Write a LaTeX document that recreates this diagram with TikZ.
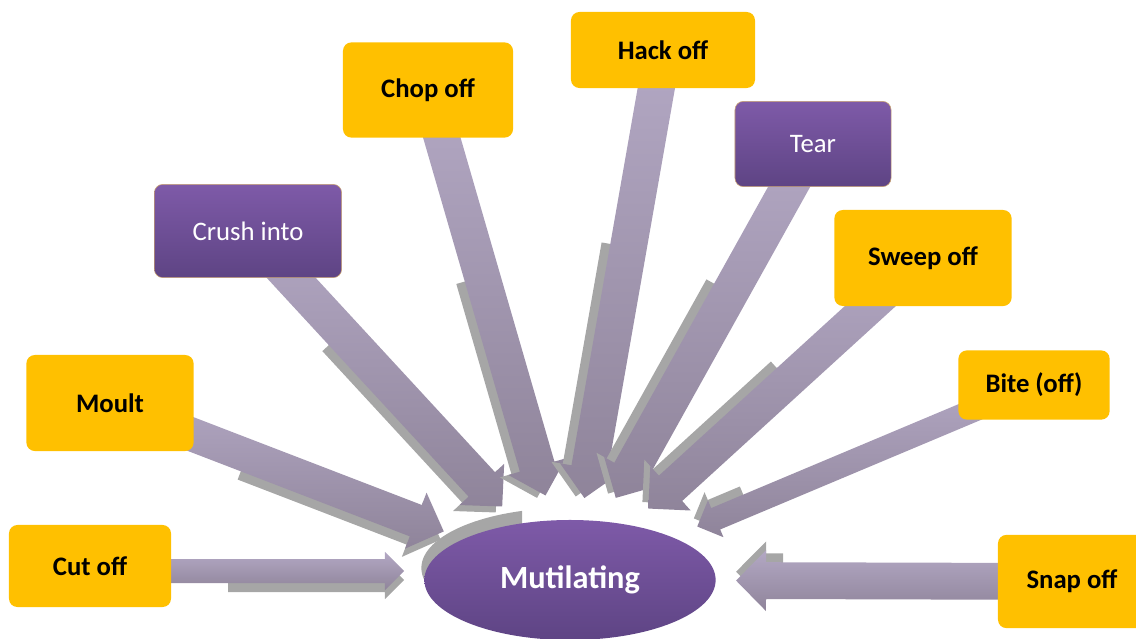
\documentclass[tikz,border=0pt]{standalone}
\usepackage{fontspec}
\setmainfont{Carlito}
\usetikzlibrary{shapes.geometric,calc,backgrounds}

\definecolor{gold}{HTML}{FFC000}
\definecolor{plumtop}{HTML}{7E5AA8}
\definecolor{plumbot}{HTML}{5E4484}
\definecolor{shafttop}{HTML}{B3A8C4}
\definecolor{shaftbot}{HTML}{8F849A}
\definecolor{shadowgrey}{HTML}{A6A6A6}
\definecolor{rim}{HTML}{C8A070}

\tikzset{
    verb/.style={rounded corners=6pt, inner sep=0pt, fill=gold, text=black,
        font=\fontsize{19}{22}\selectfont\bfseries},
    verbplum/.style={rounded corners=6pt, inner sep=0pt, top color=plumtop,
        bottom color=plumbot, draw=rim, line width=0.4pt, text=white,
        font=\fontsize{19}{22}\selectfont},
    hub/.style={ellipse, inner sep=0pt, top color=plumtop, bottom color=plumbot,
        text=white, font=\fontsize{23}{27}\selectfont\bfseries},
    shaft/.style={top color=shafttop, bottom color=shaftbot},
}

% block arrow: #1 fill, #2 tail, #3 tip, #4 half shaft, #5 half head, #6 head length
\newcommand{\fatarrow}[6]{%
    \coordinate (fa-neck) at ($(#3)!#6!(#2)$);
    \path[#1] ($(#2)!#4!90:(#3)$) -- ($(fa-neck)!#4!90:(#3)$)
        -- ($(fa-neck)!#5!90:(#3)$) -- (#3)
        -- ($(fa-neck)!#5!-90:(#3)$) -- ($(fa-neck)!#4!-90:(#3)$)
        -- ($(#2)!#4!-90:(#3)$) -- cycle;
}

\begin{document}
\begin{tikzpicture}[x=0.025cm, y=-0.025cm]
    \useasboundingbox (0,0) rectangle (1136,638);

    \node[hub, minimum width=7.28cm, minimum height=3cm] (mut) at (570,580) {Mutilating};

    \node[verb, minimum width=4.05cm, minimum height=2.05cm] (cut) at (90,566) {Cut off};
    \node[verb, minimum width=4.18cm, minimum height=2.4cm] (moult) at (110,403) {Moult};
    \node[verbplum, minimum width=4.68cm, minimum height=2.33cm] (crush) at (248,231) {Crush into};
    \node[verb, minimum width=4.25cm, minimum height=2.38cm] (chop) at (428,90) {Chop off};
    \node[verb, minimum width=4.6cm, minimum height=1.9cm] (hack) at (663,50) {Hack off};
    \node[verbplum, minimum width=3.9cm, minimum height=2.13cm] (tear) at (813,144) {Tear};
    \node[verb, minimum width=4.43cm, minimum height=2.4cm] (sweep) at (923,258) {Sweep off};
    \node[verb, minimum width=3.78cm, minimum height=1.73cm] (bite) at (1034,385) {Bite (off)};
    \node[verb, minimum width=3.7cm, minimum height=2.33cm] (snap) at (1072,581.5) {Snap off};

    \begin{pgfonlayer}{background}
        % shadow under the hub
        \begin{scope}
            \clip (400,500) rectangle (522,600);
            \fill[shadowgrey] ($(mut.center)+(-3,-12)$) ellipse [x radius=3.64cm, y radius=1.5cm];
        \end{scope}

        % the flat one on the left
        \coordinate (cut-tip) at ($(mut.west)+(-20,-9)$);
        \coordinate (cut-tail) at (cut.center |- cut-tip);
        \coordinate (cut-mid) at ($(cut-tail)!0.44!(cut-tip)$);
        \fatarrow{fill=shadowgrey}{$(cut-mid)+(0,9)$}{$(cut-tip)+(0,9)$}{0.3cm}{0.48cm}{0.48cm}
        \fatarrow{shaft}{cut-tail}{cut-tip}{0.3cm}{0.48cm}{0.48cm}

        % box / tip distance / half shaft / half head / head length / shadow start
        \foreach \b/\d/\w/\h/\l/\f in {
            moult/3.38/0.42/0.75/0.75/0.41, crush/2.5/0.45/0.76/0.75/0.37,
            chop/2.2/0.45/0.75/0.75/0.46, hack/2.08/0.46/0.75/0.75/0.44,
            tear/2.35/0.46/0.75/0.75/0.42, sweep/2.65/0.43/0.75/0.75/0.49,
            bite/3.45/0.29/0.5/0.5/0.85, snap/4.15/0.46/0.76/0.75/0.86} {
            \coordinate (\b-tip) at ($(mut.center)!\d cm!(\b.center)$);
            \coordinate (\b-mid) at ($(\b.center)!\f!(\b-tip)$);
            \coordinate (\b-s0) at ($(\b-mid)!0.22cm!-90:(\b-tip)$);
            \coordinate (\b-s1) at ($(\b-tip)!0.22cm!90:(\b.center)$);
            \fatarrow{fill=shadowgrey}{\b-s0}{\b-s1}{\w cm}{\h cm}{\l cm}
            \fatarrow{shaft}{\b.center}{\b-tip}{\w cm}{\h cm}{\l cm}
        }
    \end{pgfonlayer}
\end{tikzpicture}
\end{document}
